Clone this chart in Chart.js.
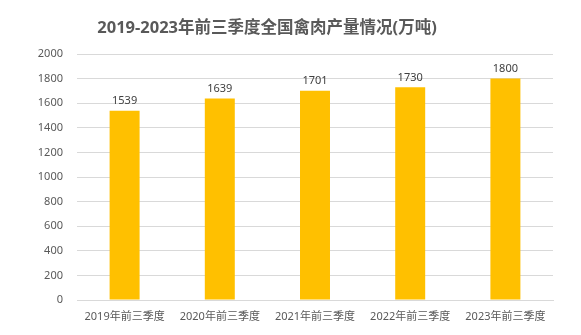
<html>
<head>
<meta charset="utf-8">
<script src="https://cdn.jsdelivr.net/npm/chart.js@4.4.0/dist/chart.umd.min.js"></script>
<style>
  body { margin:0; background:#fff; }
  #wrap { width:581px; height:335px; }
</style>
</head>
<body>
<div id="wrap"><canvas id="myChart" width="581" height="335"></canvas></div>
<script>
var categories = ['2019年前三季度','2020年前三季度','2021年前三季度','2022年前三季度','2023年前三季度'];
var output = [1539, 1639, 1701, 1730, 1800];
var yTicks = [0, 200, 400, 600, 800, 1000, 1200, 1400, 1600, 1800, 2000];
var titleText = '2019-2023年前三季度全国禽肉产量情况(万吨)';
var fontFam = '"Noto Sans", "Noto Sans CJK SC", sans-serif';

// title + numbers over the bars
var barLabels = {
  id: 'barLabels',
  afterDraw: function(chart){
    var ctx = chart.ctx;
    var meta = chart.getDatasetMeta(0);
    ctx.save();
    ctx.font = '11px ' + fontFam;
    ctx.fillStyle = '#404040';
    ctx.textAlign = 'center';
    ctx.textBaseline = 'bottom';
    meta.data.forEach(function(bar, i){
      ctx.fillText(output[i], bar.x, bar.y - 4);
    });
    ctx.font = 'bold 16.5px ' + fontFam;
    ctx.fillStyle = '#595959';
    ctx.textBaseline = 'middle';
    ctx.fillText(titleText, 267, 28);
    ctx.restore();
  }
};

var chart = new Chart(document.getElementById('myChart').getContext('2d'), {
  type: 'bar',
  data: {
    labels: categories,
    datasets: [{
      data: output,
      backgroundColor: '#FFC000',
      borderWidth: 0,
      barPercentage: 0.315,
      categoryPercentage: 1
    }]
  },
  options: {
    responsive: false,
    animation: false,
    layout: { padding: { left: 0, right: 28, top: 54, bottom: 0 } },
    plugins: {
      legend: { display: false },
      tooltip: { enabled: false },
      title: { display: false }
    },
    scales: {
      x: {
        grid: { display: false, drawTicks: false },
        border: { color: '#D9D9D9' },
        ticks: { color: '#595959', font: { family: fontFam, size: 11 }, padding: 10, maxRotation: 0 },
        afterFit: function(s){ s.height = 35; }
      },
      y: {
        min: 0, max: 2000,
        afterBuildTicks: function(s){ s.ticks = yTicks.map(function(v){ return { value: v }; }); },
        grid: { color: '#D9D9D9', drawTicks: false },
        border: { display: false },
        ticks: { color: '#595959', font: { family: fontFam, size: 11 }, padding: 14,
                 callback: function(v){ return String(v); } },
        afterFit: function(s){ s.width = 77; }
      }
    }
  },
  plugins: [barLabels]
});
</script>
</body>
</html>
